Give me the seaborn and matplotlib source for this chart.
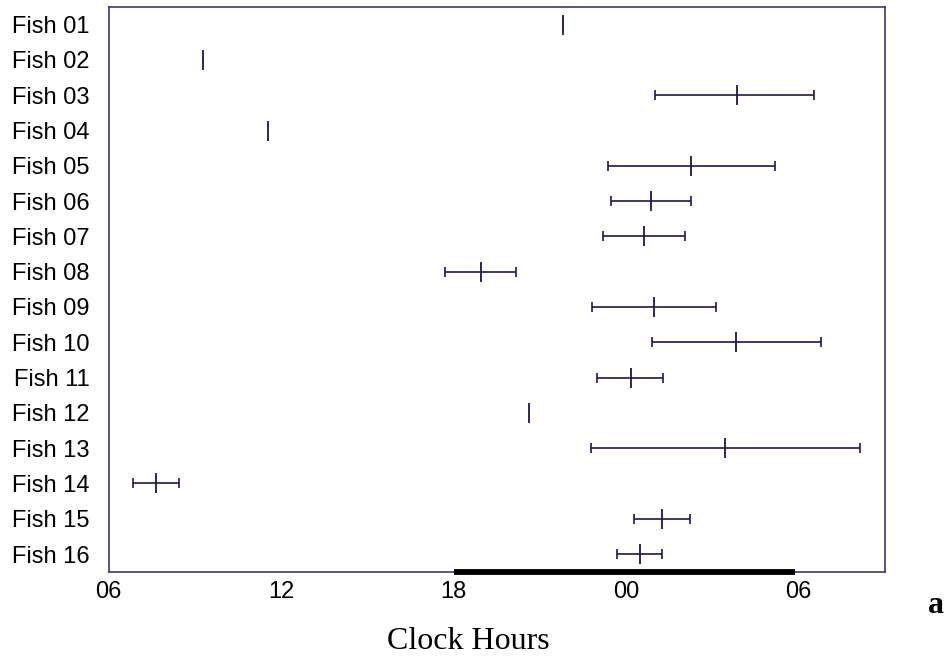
import numpy as np
import pandas as pd
import matplotlib
matplotlib.use("Agg")
import matplotlib.pyplot as plt
import seaborn as sns

# ---- data (hours; values > 24 are past midnight) ----
fish = ["Fish %02d" % i for i in range(1, 17)]
mean_hour = [21.80, 9.27, 27.86, 11.54, 26.25, 24.85, 24.61, 18.96,
             24.97, 27.83, 24.16, 20.63, 27.45, 7.65, 25.23, 24.48]
low_hour = [np.nan, np.nan, 24.99, np.nan, 23.36, 23.46, 23.18, 17.71,
            22.81, 24.90, 23.00, np.nan, 22.77, 6.85, 24.26, 23.69]
high_hour = [np.nan, np.nan, 30.52, np.nan, 29.17, 26.25, 26.03, 20.17,
             27.13, 30.77, 25.29, np.nan, 32.12, 8.43, 26.21, 25.25]
tick_hours = [6, 12, 18, 24, 30]
tick_labels = ["06", "12", "18", "00", "06"]
night_start, night_end = 18.0, 29.88

df = pd.DataFrame({"fish": fish, "mean": mean_hour, "lo": low_hour, "hi": high_hour})

sns.set_theme(style="white")
plt.rcParams["font.family"] = ["Liberation Sans", "DejaVu Sans"]
plt.rcParams["text.color"] = "black"

navy = "#18184c"
spine_c = "#3a3a6c"

fig = plt.figure(figsize=(9.48, 6.58), dpi=100)
ax = fig.add_axes([0.1147, 0.1312, 0.8188, 0.8582])

sns.scatterplot(data=df, x="mean", y="fish", marker="|", s=15 ** 2,
                color=navy, linewidth=1.3, ax=ax, zorder=3, legend=False)

eb = df.dropna()
ax.errorbar(eb["mean"], eb["fish"],
            xerr=[eb["mean"] - eb["lo"], eb["hi"] - eb["mean"]],
            fmt="none", ecolor=navy, elinewidth=1.2, capsize=3.9,
            capthick=1.2, zorder=2)

ax.set_xlim(6, 33)
ax.set_ylim(15.5, -0.5)
ax.set_xticks(tick_hours)
ax.set_xticklabels(tick_labels)

# night bar along the bottom axis
ax.plot([night_start, night_end], [15.5, 15.5], color="black", lw=4.2,
        solid_capstyle="butt", clip_on=False, zorder=5)

for s in ax.spines.values():
    s.set_color(spine_c)
    s.set_linewidth(1.2)

ax.tick_params(axis="x", direction="in", length=8, width=1.1, color=spine_c,
               labelsize=17, pad=7, labelcolor="black")
ax.tick_params(axis="y", length=0, labelsize=17, pad=14, labelcolor="black")
ax.set_xlabel("")
ax.set_ylabel("")

fig.text(0.494, 0.0135, "Clock Hours", ha="center", va="baseline",
         fontsize=23, color="black", family=["Liberation Serif", "DejaVu Serif"])
fig.text(0.987, 0.068, "a", ha="center", va="baseline", fontsize=23,
         color="black", fontweight="bold", family=["Liberation Serif", "DejaVu Serif"])

fig.savefig("out.png", dpi=100)
